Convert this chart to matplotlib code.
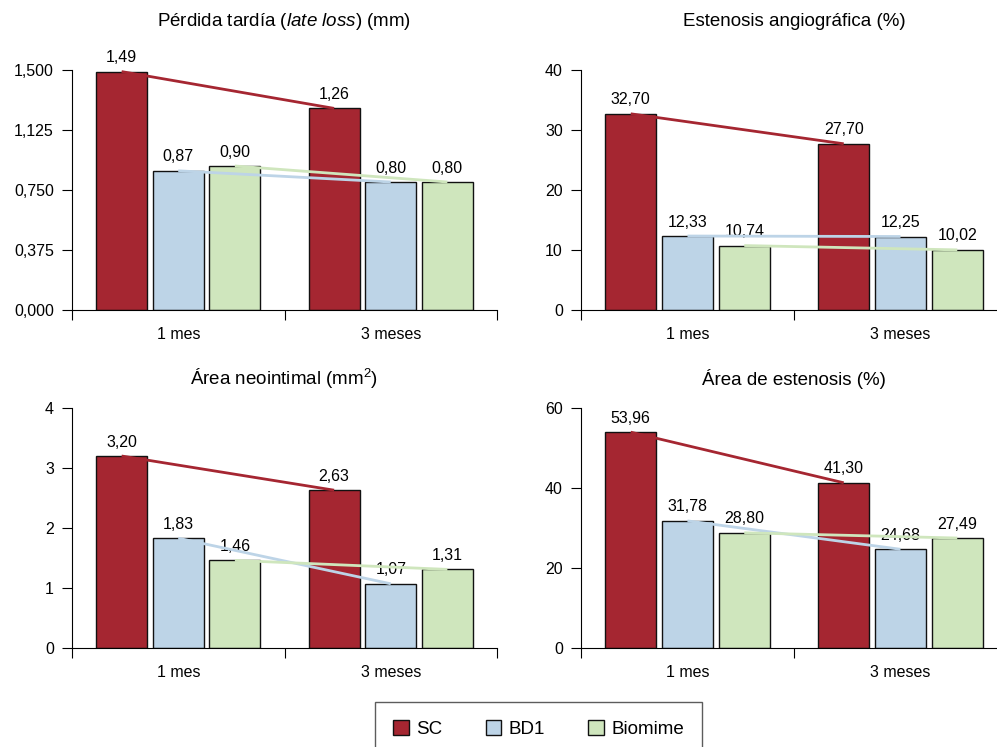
import matplotlib
matplotlib.use("Agg")
import matplotlib.pyplot as plt
from matplotlib.patches import Patch

plt.rcParams['font.family'] = ['Liberation Sans', 'DejaVu Sans']
plt.rcParams['mathtext.fontset'] = 'custom'
plt.rcParams['mathtext.rm'] = 'Liberation Sans'
plt.rcParams['mathtext.it'] = 'Liberation Sans:italic'

categorias = ["1 mes", "3 meses"]
series = ["SC", "BD1", "Biomime"]
colores = ["#a52631", "#bdd4e7", "#cfe6bd"]

late_loss = {"SC": [1.49, 1.26], "BD1": [0.87, 0.80], "Biomime": [0.90, 0.80]}
estenosis_angio = {"SC": [32.70, 27.70], "BD1": [12.33, 12.25], "Biomime": [10.74, 10.02]}
area_neo = {"SC": [3.20, 2.63], "BD1": [1.83, 1.07], "Biomime": [1.46, 1.31]}
area_esten = {"SC": [53.96, 41.30], "BD1": [31.78, 24.68], "Biomime": [28.80, 27.49]}

titulos = ["Pérdida tardía ($\\it{late\\ loss}$) (mm)",
           "Estenosis angiográfica (%)",
           "Área neointimal (mm$^2$)",
           "Área de estenosis (%)"]
yticks_list = [[0, 0.375, 0.75, 1.125, 1.5], [0, 10, 20, 30, 40],
               [0, 1, 2, 3, 4], [0, 20, 40, 60]]
decimales_ticks = [3, 0, 0, 0]
datos = [late_loss, estenosis_angio, area_neo, area_esten]

W, H = 997, 747
fig = plt.figure(figsize=(W / 100, H / 100), dpi=100)

# axes positions in pixels: left, right, y of value 0, y of top tick
posiciones = [(72, 497, 310, 70), (581, 1007, 310, 70),
              (72, 497, 648, 408), (581, 1007, 648, 408)]
titulo_y = [22, 22, 379, 379]

desplaz = [-0.2665, 0.0, 0.2665]
ancho = 0.24

def coma(v, d):
    return f"{v:.{d}f}".replace(".", ",")

for k in range(4):
    xl, xr, yb, yt = posiciones[k]
    ax = fig.add_axes([xl / W, 1 - yb / H, (xr - xl) / W, (yb - yt) / H])
    ax.set_facecolor("none")
    d = datos[k]
    for s, nombre in enumerate(series):
        xs = [i + 0.5 + desplaz[s] for i in range(len(categorias))]
        ax.bar(xs, d[nombre], width=ancho, color=colores[s],
               edgecolor="#111111", linewidth=1.0, zorder=2)
        for x, v in zip(xs, d[nombre]):
            ax.annotate(coma(v, 2), (x, v), xytext=(0, 10), textcoords="offset points",
                        ha="center", va="center", fontsize=11.5, zorder=3)
        ax.plot(xs, d[nombre], color=colores[s], linewidth=2, zorder=4,
                solid_capstyle="butt")

    yt_vals = yticks_list[k]
    ax.set_xlim(0, 2)
    ax.set_ylim(0, yt_vals[-1])
    ax.set_yticks(yt_vals)
    ax.set_yticklabels([coma(v, decimales_ticks[k]) for v in yt_vals])
    ax.set_xticks([0, 1, 2])
    ax.set_xticklabels([])
    ax.set_xticks([0.5, 1.5], minor=True)
    ax.set_xticklabels(categorias, minor=True)
    ax.tick_params(axis="y", length=7, width=0.8, pad=6, labelsize=11.5)
    ax.tick_params(axis="x", which="major", length=7, width=0.8)
    ax.tick_params(axis="x", which="minor", length=0, pad=12, labelsize=11.5)
    for lado in ["top", "right"]:
        ax.spines[lado].set_visible(False)
    ax.spines["left"].set_linewidth(0.8)
    ax.spines["bottom"].set_linewidth(0.8)
    ax.spines["left"].set_bounds(0, yt_vals[-1])

    xc = (xl + xr) / 2
    fig.text(xc / W, 1 - titulo_y[k] / H, titulos[k], ha="center", va="center",
             fontsize=13.5)

handles = [Patch(facecolor=c, edgecolor="#111111", linewidth=1.0) for c in colores]
fig.legend(handles, series, loc="upper left", bbox_to_anchor=(375 / W, 1 - 702 / H),
           ncol=3, fontsize=13.5, frameon=True, fancybox=False, edgecolor="#333333",
           handlelength=0.85, handleheight=0.85, handletextpad=0.4,
           columnspacing=2.3, borderpad=0.95, borderaxespad=0)

fig.savefig("out.png", dpi=100)
